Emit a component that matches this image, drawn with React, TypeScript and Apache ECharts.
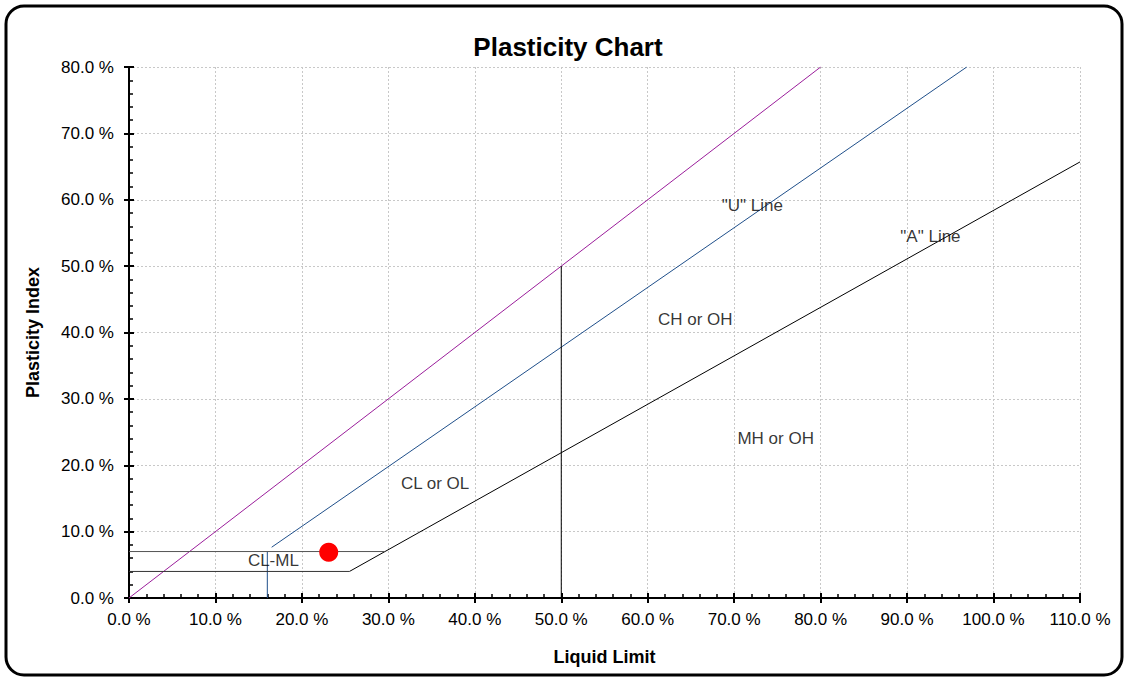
import React, { useEffect, useRef } from "react";
import * as echarts from "echarts";

const xTicks = [0, 10, 20, 30, 40, 50, 60, 70, 80, 90, 100, 110];
const yTicks = [0, 10, 20, 30, 40, 50, 60, 70, 80];

const equalityLine = [[0, 0], [80, 80]];
const uLine = [[16.5, 7.65], [96.9, 80]];
const uVertical = [[16, 0], [16, 7]];
const aLine = [[25.5, 4], [110, 65.7]];
const pi7Line = [[0, 7], [29.6, 7]];
const pi4Line = [[0, 4], [25.5, 4]];
const ll50Line = [[50, 0], [50, 50]];
const samplePoint = [[23.1, 6.9]];

const zoneLabels = [
  { name: '"U" Line', value: [72.1, 59.2] },
  { name: '"A" Line', value: [92.7, 54.5] },
  { name: "CH or OH", value: [65.5, 41.9] },
  { name: "MH or OH", value: [74.8, 24.1] },
  { name: "CL or OL", value: [35.4, 17.3] },
  { name: "CL-ML", value: [16.7, 5.7] },
];

const FONT = "'Liberation Sans', Arial, sans-serif";

export default function App() {
  const ref = useRef<HTMLDivElement>(null);
  useEffect(() => {
    const chart = echarts.init(ref.current!, null, { renderer: "svg" });
    const fmt = (v: number) => v.toFixed(1) + " %";
    const line = (data: number[][], color: string, width = 1) => ({
      type: "line",
      data,
      symbol: "none",
      lineStyle: { color, width },
      silent: true,
      z: 3,
    });
    const baseX = {
      type: "value",
      min: xTicks[0],
      max: xTicks[xTicks.length - 1],
      interval: 10,
      position: "bottom",
    };
    const baseY = {
      type: "value",
      min: yTicks[0],
      max: yTicks[yTicks.length - 1],
      interval: 10,
      position: "left",
    };
    chart.setOption({
      animation: false,
      backgroundColor: "#fff",
      textStyle: { fontFamily: FONT },
      title: {
        text: "Plasticity Chart",
        left: 563,
        top: 29,
        textAlign: "center",
        textStyle: { fontFamily: FONT, fontSize: 26, fontWeight: "bold", color: "#000" },
      },
      graphic: [
        {
          type: "rect",
          shape: { x: 6, y: 6, width: 1116, height: 669, r: 18 },
          style: { fill: "none", stroke: "#000", lineWidth: 3 },
          z: 100,
        },
      ],
      grid: { left: 129, right: 48, top: 67, bottom: 83 },
      xAxis: [
        {
          ...baseX,
          name: "Liquid Limit",
          nameLocation: "middle",
          nameGap: 50,
          nameTextStyle: { fontFamily: FONT, fontSize: 18, fontWeight: "bold", color: "#000" },
          axisLine: { lineStyle: { color: "#000", width: 2 } },
          axisTick: { show: true, inside: true, length: 5, lineStyle: { color: "#000", width: 2 } },
          minorTick: { show: true, splitNumber: 5, length: 4, lineStyle: { color: "#000", width: 1.5 } },
          axisLabel: { formatter: fmt, fontFamily: FONT, fontSize: 17, color: "#000", margin: 13 },
          splitLine: { show: true, lineStyle: { color: "#c8c8c8", type: [2, 2], width: 1 } },
        },
        {
          ...baseX,
          axisLine: { show: false },
          axisTick: { show: true, inside: false, length: 5, lineStyle: { color: "#000", width: 2 } },
          axisLabel: { show: false },
          splitLine: { show: false },
        },
      ],
      yAxis: [
        {
          ...baseY,
          name: "Plasticity Index",
          nameLocation: "middle",
          nameGap: 87,
          nameRotate: 90,
          nameTextStyle: { fontFamily: FONT, fontSize: 18, fontWeight: "bold", color: "#000" },
          axisLine: { show: true, lineStyle: { color: "#000", width: 2 } },
          axisTick: { show: true, inside: true, length: 5, lineStyle: { color: "#000", width: 2 } },
          minorTick: { show: true, splitNumber: 5, length: 4, lineStyle: { color: "#000", width: 1.5 } },
          axisLabel: { formatter: fmt, fontFamily: FONT, fontSize: 17, color: "#000", margin: 15 },
          splitLine: { show: true, lineStyle: { color: "#c8c8c8", type: [2, 2], width: 1 } },
        },
        {
          ...baseY,
          axisLine: { show: false },
          axisTick: { show: true, inside: false, length: 5, lineStyle: { color: "#000", width: 2 } },
          axisLabel: { show: false },
          splitLine: { show: false },
        },
      ],
      series: [
        line(equalityLine, "#9b1e9b"),
        line(uLine, "#1f4f8a"),
        line(uVertical, "#1f4f8a"),
        line(aLine, "#000"),
        line(pi7Line, "#555"),
        line(pi4Line, "#333"),
        line(ll50Line, "#000"),
        {
          type: "scatter",
          data: samplePoint,
          symbolSize: 19,
          itemStyle: { color: "#ff0000", opacity: 1 },
          z: 5,
          silent: true,
        },
        {
          type: "scatter",
          data: zoneLabels,
          symbolSize: 0,
          silent: true,
          z: 6,
          label: {
            show: true,
            position: "inside",
            formatter: (p: any) => p.name,
            fontFamily: FONT,
            fontSize: 17,
            color: "#000",
          },
        },
      ],
    });
    return () => chart.dispose();
  }, []);
  return (
    <div
      ref={ref}
      style={{ position: "fixed", left: 0, top: 0, width: 1128, height: 681 }}
    />
  );
}
